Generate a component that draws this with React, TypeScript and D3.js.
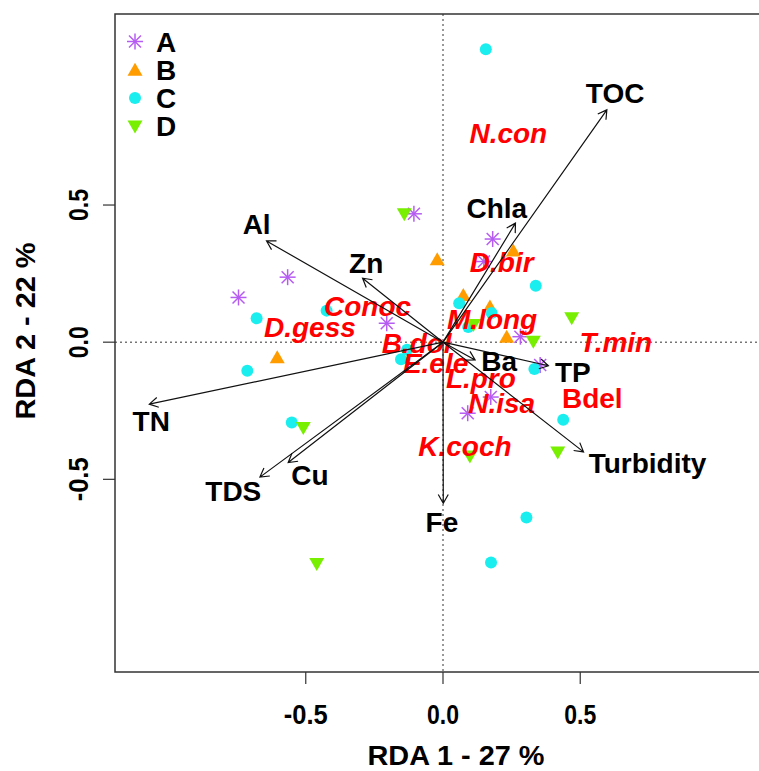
import React from "react";
import * as d3 from "d3";

// Site scores (RDA1, RDA2) per group
const siteA: [number, number][] = [
  [-0.106, 0.468], [0.181, 0.376], [0.149, 0.294], [-0.205, 0.069], [0.282, 0.02],
  [-0.566, 0.237], [-0.745, 0.163], [0.174, -0.2], [0.09, -0.259], [0.354, -0.083],
];
const siteB: [number, number][] = [
  [-0.021, 0.302], [0.256, 0.334], [0.074, 0.172], [0.171, 0.13], [0.232, 0.02], [-0.604, -0.055],
];
const siteC: [number, number][] = [
  [0.156, 1.068], [0.338, 0.206], [0.059, 0.142], [0.092, 0.055], [0.177, 0.106],
  [0.333, -0.098], [0.438, -0.283], [-0.153, -0.062], [-0.131, -0.028], [-0.679, 0.087],
  [-0.424, 0.115], [-0.713, -0.104], [-0.551, -0.293], [0.304, -0.639], [0.175, -0.803],
];
const siteD: [number, number][] = [
  [-0.141, 0.466], [0.111, 0.063], [0.329, 0.002], [0.469, 0.087],
  [0.418, -0.402], [0.098, -0.417], [-0.509, -0.313], [-0.46, -0.809],
];

const groupNames = ["A", "B", "C", "D"];
const groupColors = ["#b65cf2", "#ff9c00", "#1aeeee", "#78ee00"];
const groupShapes = ["asterisk", "up", "circle", "down"];

// Environmental vectors (arrow tips) and their label positions
const envNames = ["TOC", "Chla", "Al", "Zn", "TN", "TDS", "Cu", "Fe", "Ba", "TP", "Turbidity"];
const envX = [0.597, 0.264, -0.643, -0.293, -1.07, -0.667, -0.564, 0.001, 0.117, 0.384, 0.512];
const envY = [0.847, 0.434, 0.369, 0.233, -0.226, -0.492, -0.439, -0.587, -0.065, -0.086, -0.4];
const envLabX = [0.627, 0.196, -0.679, -0.28, -1.063, -0.764, -0.485, -0.004, 0.205, 0.473, 0.745];
const envLabY = [0.91, 0.488, 0.43, 0.29, -0.289, -0.544, -0.484, -0.654, -0.069, -0.107, -0.441];

// Species scores (Bdel is set upright, the rest in italics)
const sppNames = ["N.con", "D.bir", "Conoc", "D.gess", "M.long", "T.min", "B.dol", "E.ele", "L.pro", "N.isa", "Bdel", "K.coch"];
const sppX = [0.238, 0.214, -0.275, -0.485, 0.179, 0.63, -0.096, -0.027, 0.138, 0.214, 0.544, 0.08];
const sppY = [0.763, 0.294, 0.131, 0.056, 0.086, -0.001, -0.004, -0.075, -0.13, -0.223, -0.204, -0.377];
const sppItalic = [true, true, true, true, true, true, true, true, true, true, false, true];

const xTicks = [-0.5, 0, 0.5];
const yTicks = [-0.5, 0, 0.5];

const W = 759;
const H = 771;
const left = 115, right = 771, top = 14, bottom = 672;

const FONT = "'Liberation Sans', Arial, Helvetica, sans-serif";

function Marker({ shape, cx, cy, color }: { shape: string; cx: number; cy: number; color: string }) {
  if (shape === "circle") return <circle cx={cx} cy={cy} r={6} fill={color} />;
  if (shape === "up") {
    const pts = [[cx, cy - 7], [cx - 7.5, cy + 6], [cx + 7.5, cy + 6]];
    return <polygon points={pts.map((p) => p.join(",")).join(" ")} fill={color} />;
  }
  if (shape === "down") {
    const pts = [[cx, cy + 7], [cx - 7.5, cy - 6], [cx + 7.5, cy - 6]];
    return <polygon points={pts.map((p) => p.join(",")).join(" ")} fill={color} />;
  }
  const r = 8, d = 6;
  return (
    <g stroke={color} strokeWidth={1.5}>
      <line x1={cx - r} y1={cy} x2={cx + r} y2={cy} />
      <line x1={cx} y1={cy - r} x2={cx} y2={cy + r} />
      <line x1={cx - d} y1={cy - d} x2={cx + d} y2={cy + d} />
      <line x1={cx - d} y1={cy + d} x2={cx + d} y2={cy - d} />
    </g>
  );
}

export default function App() {
  const x = d3.scaleLinear().domain([-1.195, 1.195]).range([left, right]);
  const y = d3.scaleLinear().domain([-1.2024, 1.1964]).range([bottom, top]);
  const groups = [siteA, siteB, siteC, siteD];

  const arrowPath = (x0: number, y0: number, x1: number, y1: number) => {
    const ang = Math.atan2(y1 - y0, x1 - x0);
    const len = 10;
    const spread = Math.PI / 6;
    const a1 = ang + Math.PI - spread;
    const a2 = ang + Math.PI + spread;
    const p = d3.path();
    p.moveTo(x0, y0);
    p.lineTo(x1, y1);
    p.moveTo(x1 + len * Math.cos(a1), y1 + len * Math.sin(a1));
    p.lineTo(x1, y1);
    p.lineTo(x1 + len * Math.cos(a2), y1 + len * Math.sin(a2));
    return p.toString();
  };

  const tickLen = (v: number) => (v < 0 ? 44 : 32);

  return (
    <svg width={W} height={H} style={{ position: "absolute", left: 0, top: 0, background: "#fff" }} fontFamily={FONT}>
      <defs>
        <clipPath id="plotClip">
          <rect x={left} y={top} width={right - left} height={bottom - top} />
        </clipPath>
      </defs>
      <rect x={0} y={0} width={W} height={H} fill="#fff" />

      {/* reference lines through the origin */}
      <line x1={left} x2={right} y1={y(0)} y2={y(0)} stroke="#333" strokeWidth={1} strokeDasharray="2,3" />
      <line x1={x(0)} x2={x(0)} y1={top} y2={bottom} stroke="#333" strokeWidth={1} strokeDasharray="2,3" />

      {/* sites */}
      <g clipPath="url(#plotClip)">
        {groups.map((g, gi) =>
          g.map((p, i) => (
            <Marker key={`${gi}-${i}`} shape={groupShapes[gi]} cx={x(p[0])} cy={y(p[1])} color={groupColors[gi]} />
          ))
        )}
      </g>

      {/* species */}
      {sppNames.map((s, i) => (
        <text key={s} x={x(sppX[i])} y={y(sppY[i]) + 10} textAnchor="middle" fill="#f00"
          fontSize={28} fontWeight="bold" fontStyle={sppItalic[i] ? "italic" : "normal"}>{s}</text>
      ))}

      {/* environmental arrows */}
      {envNames.map((n, i) => (
        <path key={n} d={arrowPath(x(0), y(0), x(envX[i]), y(envY[i]))} fill="none" stroke="#111" strokeWidth={1.2} />
      ))}
      {envNames.map((n, i) => (
        <text key={n} x={x(envLabX[i])} y={y(envLabY[i]) + 10} textAnchor="middle" fill="#000"
          fontSize={28} fontWeight="bold">{n}</text>
      ))}

      {/* frame */}
      <rect x={left} y={top} width={right - left} height={bottom - top} fill="none" stroke="#333" strokeWidth={1.5} />

      {/* axes */}
      {xTicks.map((t) => (
        <g key={`x${t}`}>
          <line x1={x(t)} x2={x(t)} y1={bottom} y2={bottom + 12} stroke="#333" strokeWidth={1.2} />
          <text x={x(t)} y={724} textAnchor="middle" fontSize={27} fontWeight="bold"
            textLength={tickLen(t)} lengthAdjust="spacingAndGlyphs">{t.toFixed(1)}</text>
        </g>
      ))}
      {yTicks.map((t) => (
        <g key={`y${t}`}>
          <line x1={left - 12} x2={left} y1={y(t)} y2={y(t)} stroke="#333" strokeWidth={1.2} />
          <text transform={`translate(88,${y(t)}) rotate(-90)`} textAnchor="middle" fontSize={27} fontWeight="bold"
            textLength={tickLen(t)} lengthAdjust="spacingAndGlyphs">{t.toFixed(1)}</text>
        </g>
      ))}
      <text x={456} y={765} textAnchor="middle" fontSize={27} fontWeight="bold"
        textLength={177} lengthAdjust="spacingAndGlyphs">RDA 1 - 27 %</text>
      <text transform={`translate(35,331) rotate(-90)`} textAnchor="middle" fontSize={27} fontWeight="bold"
        textLength={177} lengthAdjust="spacingAndGlyphs">RDA 2 - 22 %</text>

      {/* legend */}
      {groupNames.map((g, i) => (
        <g key={g}>
          <Marker shape={groupShapes[i]} cx={135} cy={41.5 + i * 28.3} color={groupColors[i]} />
          <text x={156} y={41.5 + i * 28.3 + 10} fontSize={28} fontWeight="bold">{g}</text>
        </g>
      ))}
    </svg>
  );
}
